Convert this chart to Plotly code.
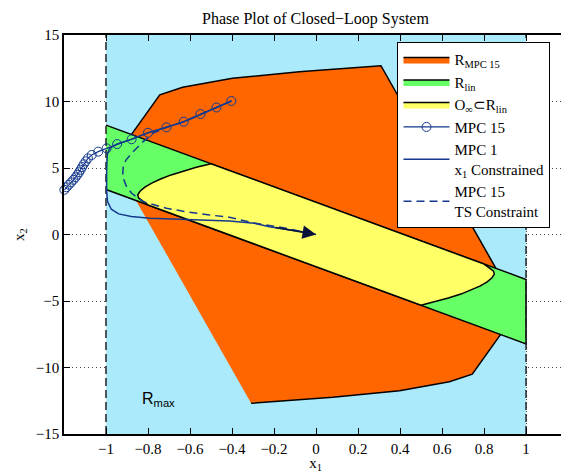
import plotly.graph_objects as go

# ---------------- data ----------------
# R_max : state constraint region |x1| <= 1
rmax_x = [-1, 1, 1, -1]
rmax_y = [-15, -15, 15, 15]

# R_MPC15 polytope
rmpc_x = [-0.966, -0.744, -0.635, -0.398, -0.080, 0.309, 0.966, 0.744, 0.635, 0.398, 0.080, -0.309]
rmpc_y = [5.59, 10.50, 11.07, 11.74, 12.24, 12.69, -5.59, -10.50, -11.07, -11.74, -12.24, -12.69]

# R_lin polytope
rlin_x = [-1, 1, 1, -1]
rlin_y = [8.22, -3.38, -8.22, 3.38]

# O_inf subset of R_lin
oinf_x = [0.80, -0.50, -0.57, -0.63, -0.69, -0.74, -0.78, -0.815, -0.838, -0.849, -0.845, -0.828, -0.80,
          0.50, 0.57, 0.63, 0.69, 0.74, 0.78, 0.815, 0.838, 0.849, 0.845, 0.828, 0.80]
oinf_y = [-2.22, 5.32, 5.05, 4.78, 4.48, 4.17, 3.88, 3.56, 3.25, 2.98, 2.75, 2.55, 2.22,
          -5.32, -5.05, -4.78, -4.48, -4.17, -3.88, -3.56, -3.25, -2.98, -2.75, -2.55, -2.22]

# MPC 15 trajectory (markers)
mpc15_x = [-0.403, -0.474, -0.550, -0.630, -0.712, -0.800, -0.878, -0.947, -0.997, -1.037, -1.068,
           -1.086, -1.097, -1.106, -1.114, -1.121, -1.128, -1.136, -1.145, -1.155, -1.166, -1.177,
           -1.188, -1.198]
mpc15_y = [10.04, 9.55, 9.06, 8.48, 8.06, 7.65, 7.16, 6.80, 6.48, 6.23, 5.98,
           5.72, 5.50, 5.28, 5.07, 4.87, 4.68, 4.49, 4.30, 4.11, 3.92, 3.74,
           3.55, 3.36]

# MPC 1, x1 constrained
mpc1_x = [-0.403, -0.474, -0.550, -0.630, -0.712, -0.800, -0.878, -0.947, -0.982, -0.994, -0.997,
          -0.997, -0.993, -0.975, -0.94, -0.88, -0.79, -0.635, -0.412, -0.294, -0.222, -0.065, 0.0]
mpc1_y = [10.04, 9.55, 9.06, 8.48, 8.06, 7.65, 7.16, 6.80, 6.50, 6.00, 4.80,
          3.30, 2.50, 1.90, 1.55, 1.35, 1.22, 1.14, 1.02, 0.84, 0.59, 0.21, 0.0]

# MPC 15, terminal set constraint
ts_x = [-0.403, -0.474, -0.550, -0.630, -0.712, -0.775, -0.823, -0.878, -0.905, -0.918, -0.921,
        -0.902, -0.878, -0.823, -0.712, -0.618, -0.507, -0.412, -0.294, -0.150, 0.0]
ts_y = [10.04, 9.55, 9.06, 8.48, 8.06, 7.62, 6.98, 6.11, 5.60, 5.10, 4.35,
        3.59, 3.10, 2.47, 1.97, 1.71, 1.47, 1.29, 0.86, 0.49, 0.0]

xticks = [-1, -0.8, -0.6, -0.4, -0.2, 0, 0.2, 0.4, 0.6, 0.8, 1]
xticklabels = ["\u22121", "\u22120.8", "\u22120.6", "\u22120.4", "\u22120.2", "0", "0.2", "0.4", "0.6", "0.8", "1"]
yticks = [-15, -10, -5, 0, 5, 10, 15]
yticklabels = ["\u221215", "\u221210", "\u22125", "0", "5", "10", "15"]

# ---------------- style ----------------
BLUE = "#aaeafb"
ORANGE = "#ff6600"
GREEN = "#66ff66"
YELLOW = "#ffff66"
NAVY = "#14398c"
SERIF = "Liberation Serif"

fig = go.Figure()

fig.add_trace(go.Scatter(x=rmax_x, y=rmax_y, fill="toself", fillcolor=BLUE, mode="none",
                         showlegend=False, hoverinfo="skip"))
fig.add_trace(go.Scatter(x=rmpc_x, y=rmpc_y, fill="toself", fillcolor=ORANGE, mode="lines",
                         line=dict(color="black", width=1.5), name="R<sub>MPC 15</sub>",
                         legendgroup="a"))
fig.add_trace(go.Scatter(x=rlin_x, y=rlin_y, fill="toself", fillcolor=GREEN, mode="lines",
                         line=dict(color="black", width=1.5), name="R<sub>lin</sub>",
                         legendgroup="b"))
fig.add_trace(go.Scatter(x=oinf_x, y=oinf_y, fill="toself", fillcolor=YELLOW, mode="lines",
                         line=dict(color="black", width=1.5),
                         name="O<sub>\u221e</sub>\u2282R<sub>lin</sub>", legendgroup="c"))

# constraint lines x1 = +-1
for xv in (-1, 1):
    fig.add_trace(go.Scatter(x=[xv, xv], y=[-15, 15], mode="lines",
                             line=dict(color="#222222", width=1.5, dash="8px,4px"),
                             showlegend=False, hoverinfo="skip"))

fig.add_trace(go.Scatter(x=mpc15_x, y=mpc15_y, mode="lines+markers",
                         line=dict(color=NAVY, width=1.2),
                         marker=dict(symbol="circle-open", size=9, color=NAVY, line=dict(width=1)),
                         name="MPC 15", legendgroup="d", cliponaxis=False))
fig.add_trace(go.Scatter(x=mpc1_x, y=mpc1_y, mode="lines",
                         line=dict(color=NAVY, width=1.5),
                         name="MPC 1<br>x<sub>1</sub> Constrained", legendgroup="e"))
fig.add_trace(go.Scatter(x=ts_x, y=ts_y, mode="lines",
                         line=dict(color=NAVY, width=1.5, dash="8px,5px"),
                         name="MPC 15<br>TS Constraint", legendgroup="f"))

fig.add_annotation(x=0, y=0, ax=-0.2, ay=0.55, xref="x", yref="y", axref="x", ayref="y",
                   text="", showarrow=True, arrowhead=2, arrowsize=1.8, arrowwidth=1.5,
                   arrowcolor="#0a1238")
fig.add_annotation(x=-0.84, y=-12.4, xref="x", yref="y", text="R<sub>max</sub>",
                   showarrow=False, xanchor="left", yanchor="middle",
                   font=dict(family="Liberation Sans", size=16, color="black"))

axis_common = dict(ticks="inside", ticklen=6, tickcolor="black", showline=True,
                   linecolor="black", linewidth=1.5, mirror="ticks", zeroline=False,
                   showgrid=True, gridcolor="#444444", griddash="1px,3px", gridwidth=1,
                   tickfont=dict(family=SERIF, size=15, color="black"))

fig.update_xaxes(range=[-1.2, 1.195], tickvals=xticks, ticktext=xticklabels,
                 title=dict(text="x<sub>1</sub>", font=dict(family=SERIF, size=15, color="black"),
                            standoff=0),
                 **axis_common)
fig.update_yaxes(range=[-15, 15], tickvals=yticks, ticktext=yticklabels,
                 title=dict(text="x<sub>2</sub>", font=dict(family=SERIF, size=15, color="black"),
                            standoff=8),
                 **axis_common)

# page body has an 8px margin: the figure is sized so the plot area lands in place
W, H = 561, 465
fig.update_layout(
    width=W, height=H,
    margin=dict(l=56, r=0, t=27, b=39),
    paper_bgcolor="white", plot_bgcolor="white",
    title=dict(text="Phase Plot of Closed\u2212Loop System", x=0.5, xref="paper",
               y=1 - 10 / H, yref="container", yanchor="middle",
               font=dict(family=SERIF, size=16, color="black")),
    legend=dict(x=0.663, y=0.982, xanchor="left", yanchor="top", bgcolor="white",
                bordercolor="black", borderwidth=1, traceorder="grouped", tracegroupgap=0,
                itemwidth=46, font=dict(family=SERIF, size=15, color="black")),
    showlegend=True,
)

fig.write_html("out.html")
